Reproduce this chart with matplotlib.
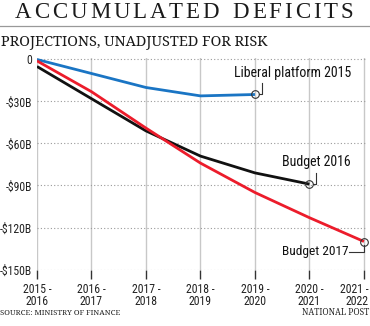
import matplotlib
matplotlib.use("Agg")
import matplotlib.pyplot as plt
from matplotlib import font_manager
from matplotlib.transforms import ScaledTranslation

# fiscal years and accumulated deficits ($B)
years = ["2015 -\n2016", "2016 -\n2017", "2017 -\n2018", "2018 -\n2019",
         "2019 -\n2020", "2020 -\n2021", "2021 -\n2022"]
liberal_2015 = [0, -10, -20, -26, -25]
budget_2016 = [-5, -28, -51, -69, -81, -89]
budget_2017 = [-1, -23, -49, -74, -95, -113, -130]
yticks = [0, -30, -60, -90, -120, -150]
ytick_labels = ["0", "-$30B", "-$60B", "-$90B", "-$120B", "-$150B"]

names = {f.name for f in font_manager.fontManager.ttflist}


def pick(*fams):
    return [f for f in fams if f in names] or ["DejaVu Sans"]


narrow = pick("Roboto Condensed", "Archivo Narrow", "Barlow Semi Condensed", "DejaVu Sans")
title_font = pick("Liberation Serif", "DejaVu Serif")
sub_font = pick("Noto Serif", "PT Serif", "Source Serif 4", "DejaVu Serif")

W, H = 370, 326
fig = plt.figure(figsize=(W / 100, H / 100), dpi=100)
renderer = fig.canvas.get_renderer()
ax = fig.add_axes([0.1, 0.1733, 0.891, 0.6485])


def fit_text(x_px, y_px, s, width_px, family, ha="left", **kw):
    # draw text at figure pixel position, scaled to a given width
    t = fig.text(x_px / W, 1 - y_px / H, s, fontsize=10, family=family, ha=ha,
                 va="baseline", **kw)
    w = t.get_window_extent(renderer).width
    t.set_fontsize(10 * width_px / w)
    return t


blue, red, black = "#1a75c4", "#ec1c2b", "#111111"
ax.plot(range(len(liberal_2015)), liberal_2015, color=blue, lw=2.0, solid_capstyle="butt", zorder=3)
ax.plot(range(len(budget_2016)), budget_2016, color=black, lw=2.0, solid_capstyle="butt", zorder=3)
ax.plot(range(len(budget_2017)), budget_2017, color=red, lw=2.0, solid_capstyle="butt", zorder=4)

# open circles at the end of each line
for s in (liberal_2015, budget_2016, budget_2017):
    ax.plot(len(s) - 1, s[-1], "o", ms=5.5, mfc="none", mec="#333333", mew=0.8,
            zorder=5, clip_on=False)

ax.set_xlim(0, 6.05)
ax.set_ylim(-150, 1)
ax.set_xticks(range(len(years)))
ax.set_xticklabels(years, fontsize=8.5, family=narrow, linespacing=0.95, color="#222222")
ax.set_yticks(yticks)
ax.set_yticklabels(ytick_labels, fontsize=8.5, family=narrow, color="#222222")
ax.tick_params(axis="x", length=6.5, width=1.0, color="#333333", pad=3)
ax.tick_params(axis="y", length=0, pad=3.5)
for sp in ax.spines.values():
    sp.set_visible(False)

# last year label sits flush with the right edge
last = ax.get_xticklabels()[-1]
last.set_horizontalalignment("right")
last.set_transform(last.get_transform() + ScaledTranslation(0.05, 0, fig.dpi_scale_trans))

for i in range(len(years)):
    ax.axvline(i, color="#c8c8c8", lw=1.0, zorder=1)
for v in yticks:
    ax.axhline(v, color="#9a9a9a", lw=0.8, ls=(0, (1, 2)), zorder=1)

# labels with leader lines
lc = "#333333"
x, y = 4, liberal_2015[-1]
ax.plot([x + 0.07, x + 0.12, x + 0.12], [y, y, y + 8.5], color=lc, lw=0.8, clip_on=False)
x, y = 5, budget_2016[-1]
ax.plot([x + 0.07, x + 0.12, x + 0.12], [y, y, y + 8], color=lc, lw=0.8, clip_on=False)
x, y = 6, budget_2017[-1]
ax.plot([x, x, x - 0.28], [y - 2.3, y - 7.3, y - 7.3], color=lc, lw=0.8, clip_on=False)

fit_text(234, 77.5, "Liberal platform 2015", 117, narrow, color="#111111")
fit_text(281.5, 166, "Budget 2016", 68.5, narrow, color="#111111")
fit_text(349, 255, "Budget 2017", 66.5, narrow, ha="right", color="#111111")

# letter-spaced title
title = "ACCUMULATED DEFICITS"
fs = 16.5
widths = []
for ch in title:
    t = fig.text(0, 0, ch if ch != " " else "I", fontsize=fs, family=title_font)
    widths.append(t.get_window_extent(renderer).width)
    t.remove()
left_px, right_px = 15, 353
gap = (right_px - left_px - sum(widths)) / (len(title) - 1)
px = left_px
for ch, w in zip(title, widths):
    if ch != " ":
        fig.text(px / W, 1 - 18.5 / H, ch, fontsize=fs, family=title_font,
                 ha="left", va="baseline", color="#1a1a1a")
    px += w + gap

fig.add_artist(plt.Line2D([0, 1], [1 - 26 / H, 1 - 26 / H], color="#999999", lw=0.9))
fit_text(1, 46.3, "PROJECTIONS, UNADJUSTED FOR RISK", 267, sub_font, color="#1a1a1a")
fit_text(0, 314.7, "SOURCE: MINISTRY OF FINANCE", 121, sub_font, color="#222222")
fit_text(369, 314.7, "NATIONAL POST", 67, sub_font, ha="right", color="#222222")

fig.savefig("out.png", dpi=100)
